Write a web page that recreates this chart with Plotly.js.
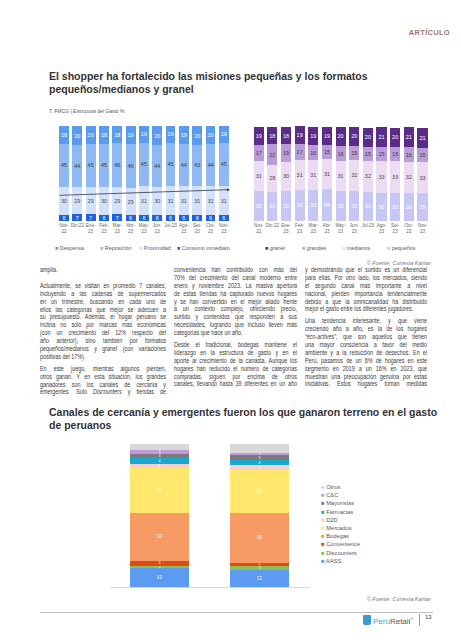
<!DOCTYPE html>
<html><head><meta charset="utf-8">
<script src="https://cdn.plot.ly/plotly-3.0.1.min.js"></script>
<style>
html,body{margin:0;padding:0;background:#fff;}
body{width:461px;height:640px;position:relative;overflow:hidden;font-family:'Liberation Sans',Arial,sans-serif;}
#chart{position:absolute;left:0;top:0;width:461px;height:640px;}
.t{position:absolute;left:49px;font-weight:bold;font-size:10.5px;line-height:13.3px;color:#333;white-space:nowrap;}
.sub{position:absolute;left:49px;top:108px;font-size:5px;color:#555;white-space:nowrap;}
.src{position:absolute;right:30px;font-size:5.5px;font-style:italic;color:#777;white-space:nowrap;}
.col{position:absolute;transform:scaleX(0.82);transform-origin:0 0;font-size:6.6px;color:#3a3a3a;}
.l{height:7.9px;line-height:7.9px;white-space:nowrap;text-align:justify;text-align-last:justify;}
.e{text-align-last:left;}
.gap{height:4px;}
</style></head>
<body>
<div id="chart"></div>

<div style="position:absolute;right:11px;top:28px;font-size:7.5px;font-weight:bold;color:#a57474;letter-spacing:0.3px;">ARTÍCULO</div>

<div class="t" style="top:70px;">El shopper ha fortalecido las misiones pequeñas y los formatos<br>pequeños/medianos y granel</div>
<div class="sub">T. FMCG | Estructura del Gasto %</div>
<div class="src" style="top:260px;">© Fuente: Cortesía Kantar</div>

<div class="col" style="left:40px;top:266px;width:153.7px;">
<div class="l e">amplia.</div>
<div style="height:8px"></div>
<div class="l">Actualmente, se visitan en promedio 7 canales,</div>
<div class="l">incluyendo a las cadenas de supermercados</div>
<div class="l">en un trimestre, buscando en cada uno de</div>
<div class="l">ellos las categorías que mejor se adecuen a</div>
<div class="l">su presupuesto. Además, el hogar peruano se</div>
<div class="l">inclina no solo por marcas más económicas</div>
<div class="l">(con un crecimiento del 12% respecto del</div>
<div class="l">año anterior), sino también por formatos</div>
<div class="l">pequeños/medianos y granel (con variaciones</div>
<div class="l e">positivas del 17%).</div>
<div class="gap"></div>
<div class="l">En este juego, mientras algunos pierden,</div>
<div class="l">otros ganan. Y en esta situación, los grandes</div>
<div class="l">ganadores son los canales de cercanía y</div>
<div class="l">emergentes. Solo <i>Discounters</i> y tiendas de</div>
</div>

<div class="col" style="left:174px;top:266px;width:150px;">
<div class="l">conveniencia han contribuido con más del</div>
<div class="l">70% del crecimiento del canal moderno entre</div>
<div class="l">enero y noviembre 2023. La masiva apertura</div>
<div class="l">de estas tiendas ha capturado nuevos hogares</div>
<div class="l">y se han convertido en el mejor aliado frente</div>
<div class="l">a un contexto complejo, ofreciendo precio,</div>
<div class="l">surtido y contenidos que responden a sus</div>
<div class="l">necesidades, logrando que incluso lleven más</div>
<div class="l e">categorías que hace un año.</div>
<div class="gap"></div>
<div class="l">Desde el tradicional, bodegas mantiene el</div>
<div class="l">liderazgo en la estructura de gasto y en el</div>
<div class="l">aporte al crecimiento de la canasta. Aunque los</div>
<div class="l">hogares han reducido el número de categorías</div>
<div class="l">compradas, siguen por encima de otros</div>
<div class="l">canales, llevando hasta 39 diferentes en un año</div>
</div>

<div class="col" style="left:305px;top:266px;width:148.8px;">
<div class="l">y demostrando que el surtido es un diferencial</div>
<div class="l">para ellas. Por otro lado, los mercados, siendo</div>
<div class="l">el segundo canal más importante a nivel</div>
<div class="l">nacional, pierden importancia tendencialmente</div>
<div class="l">debido a que la omnicanalidad ha distribuido</div>
<div class="l e">mejor el gasto entre los diferentes jugadores.</div>
<div class="gap"></div>
<div class="l">Una tendencia interesante, y que viene</div>
<div class="l">creciendo año a año, es la de los hogares</div>
<div class="l"><i>“eco-actives”</i>, que son aquellos que tienen</div>
<div class="l">una mayor consciencia a favor del medio</div>
<div class="l">ambiente y a la reducción de desechos. En el</div>
<div class="l">Perú, pasamos de un 6% de hogares en este</div>
<div class="l">segmento en 2019 a un 16% en 2023, que</div>
<div class="l">muestran una preocupación genuina por estas</div>
<div class="l">iniciativas. Estos hogares toman medidas</div>
</div>

<div class="t" style="top:406px;">Canales de cercanía y emergentes fueron los que ganaron terreno en el gasto<br>de peruanos</div>
<div class="src" style="top:596px;">© Fuente: Cortesía Kantar</div>

<div style="position:absolute;left:40px;top:612px;width:393px;height:1px;background:#bdbdbd;"></div>
<div style="position:absolute;left:363px;top:615px;width:8px;height:10px;background:#3a9ad8;border-radius:1px 1px 2px 2px;"></div>
<div style="position:absolute;left:373px;top:616px;font-size:8px;white-space:nowrap;"><span style="color:#3da5e0">Perú</span><span style="color:#555">Retail</span><sup style="font-size:4px;color:#555">®</sup></div>
<div style="position:absolute;left:419px;top:614px;width:1px;height:12px;background:#999;"></div>
<div style="position:absolute;left:425px;top:614px;font-size:6px;color:#444;">13</div>

<script>
// ---- Chart 1: Misiones (Estructura del gasto %) ----
const months = ["Nov-22","Dic-22","Ene-23","Feb-23","Mar-23","Abr-23","May-23","Jun-23","Jul-23","Ago-23","Set-23","Oct-23","Nov-23"];
const monthTicks = ["Nov-<br>22","Dic-22","Ene-<br>23","Feb-<br>23","Mar-<br>23","Abr-<br>23","May-<br>23","Jun-<br>23","Jul-23","Ago-<br>23","Set-<br>23","Oct-<br>23","Nov-<br>23"];
const despensa         = [19,20,20,19,18,19,19,20,19,19,20,20,19];
const reposicion       = [45,44,45,45,46,46,45,44,45,44,43,44,45];
const proximidad       = [30,29,29,30,29,29,31,30,31,31,31,31,31];
const consumoInmediato = [6,7,7,6,7,6,6,6,6,6,6,6,6];

// ---- Chart 2: Formatos ----
const granel   = [19,18,18,19,19,19,20,20,20,21,20,21,21];
const grandes  = [17,22,19,17,16,15,16,15,15,15,15,16,15];
const medianos = [31,28,30,31,31,31,31,32,32,33,33,32,33];
const pequenos = [32,31,32,33,33,34,32,32,31,30,30,30,29];

// ---- Chart 3: Canales ----
const periodos    = ["2022","2023"];
const aass        = [13,12];
const discounters = [2,3];
const convenience = [3,2];
const bodegas     = [34,35];
const mercados    = [31,30];
const d2d         = [3,3];
const farmacias   = [4,4];
const mayoristas  = [3,3];
const cyc         = [3,2];
const otros       = [4,6];

const W = 461, H = 640;
const px = v => v / W, py = v => 1 - v / H;

function bar(x, y, name, color, txtColor, xa, ya, width, fs) {
  return {type:'bar', x:x, y:y, name:name, xaxis:xa, yaxis:ya, width:width,
    marker:{color:color},
    text:y.map(String), textposition:'inside', insidetextanchor:'middle',
    textangle:0, constraintext:'none',
    textfont:{size:fs, color:txtColor, family:'Liberation Sans, Arial, sans-serif'},
    hoverinfo:'skip'};
}

const t1 = [
  bar(months, consumoInmediato, 'Consumo inmediato', '#1f62d9', '#ffffff', 'x', 'y', 0.74, 5.5),
  bar(months, proximidad, 'Proximidad', '#d3e2fa', '#4a4a4a', 'x', 'y', 0.74, 5.5),
  bar(months, reposicion, 'Reposición', '#8fb9f4', '#3a3a3a', 'x', 'y', 0.74, 5.5),
  bar(months, despensa, 'Despensa', '#5a9bef', '#ffffff', 'x', 'y', 0.74, 5.5)
];
const t2 = [
  bar(months, pequenos, 'pequeños', '#c6c7f4', '#ffffff', 'x2', 'y2', 0.74, 5.5),
  bar(months, medianos, 'medianos', '#ecdcf3', '#4a4a4a', 'x2', 'y2', 0.74, 5.5),
  bar(months, grandes, 'grandes', '#b99bd8', '#3a3a3a', 'x2', 'y2', 0.74, 5.5),
  bar(months, granel, 'granel', '#5c2a88', '#ffffff', 'x2', 'y2', 0.74, 5.5)
];
const t3 = [
  bar(periodos, aass, 'AASS', '#5b9cf2', '#ffffff', 'x3', 'y3', 0.59, 4.5),
  bar(periodos, discounters, 'Discounters', '#8cc152', '#ffffff', 'x3', 'y3', 0.59, 3.6),
  bar(periodos, convenience, 'Convenience', '#e04a16', '#ffffff', 'x3', 'y3', 0.59, 3.6),
  bar(periodos, bodegas, 'Bodegas', '#f79a64', '#ffffff', 'x3', 'y3', 0.59, 4.5),
  bar(periodos, mercados, 'Mercados', '#ffe86b', '#ffffff', 'x3', 'y3', 0.59, 4.5),
  bar(periodos, d2d, 'D2D', '#f6cfcc', '#ffffff', 'x3', 'y3', 0.59, 3.6),
  bar(periodos, farmacias, 'Farmacias', '#18a9cc', '#ffffff', 'x3', 'y3', 0.59, 3.6),
  bar(periodos, mayoristas, 'Mayoristas', '#7b7b7b', '#ffffff', 'x3', 'y3', 0.59, 3.6),
  bar(periodos, cyc, 'C&C', '#c39ad9', '#ffffff', 'x3', 'y3', 0.59, 3.6),
  bar(periodos, otros, 'Otros', '#d9d9d9', '#ffffff', 'x3', 'y3', 0.59, 3.6)
];
t3[t3.length - 1].textposition = 'none';

const ann = [];
function legItem(tr, xPix, yPix, fs) {
  ann.push({xref:'paper', yref:'paper', x:px(xPix), y:py(yPix), xanchor:'left', yanchor:'middle',
    showarrow:false, text:'<span style="color:' + tr.marker.color + '">■</span> ' + tr.name,
    font:{size:fs, color:'#5a5a5a'}});
}
// top-left legend
[[t1[3],53],[t1[2],98],[t1[1],137],[t1[0],175]].forEach(d => legItem(d[0], d[1], 248, 5.4));
// top-right legend
[[t2[3],263],[t2[2],300],[t2[1],340],[t2[0],385]].forEach(d => legItem(d[0], d[1], 248, 5.4));
// bottom legend (top to bottom: Otros ... AASS)
t3.slice().reverse().forEach((tr, i) => legItem(tr, 319, 487 + i * 8.2, 5.8));

// trend arrow across "Proximidad"
ann.push({xref:'x', yref:'y', axref:'x', ayref:'y', x:12.45, y:33, ax:-0.45, ay:27,
  showarrow:true, arrowhead:2, arrowsize:0.7, arrowwidth:0.8, arrowcolor:'#2a3550', text:''});

const catAxis = {type:'category', tickvals:months, ticktext:monthTicks, showgrid:false,
  zeroline:false, showline:false, ticks:'', tickangle:0, automargin:false,
  tickfont:{size:4.6, color:'#666'}, fixedrange:true};

const layout = {
  width:W, height:H, margin:{l:0,r:0,t:0,b:0},
  paper_bgcolor:'rgba(0,0,0,0)', plot_bgcolor:'rgba(0,0,0,0)',
  barmode:'stack', showlegend:false,
  font:{family:'Liberation Sans, Arial, sans-serif', color:'#555'},
  xaxis: Object.assign({}, catAxis, {domain:[px(56), px(231.5)], anchor:'y'}),
  yaxis: {domain:[py(221), py(126)], range:[0,100], visible:false, anchor:'x'},
  xaxis2: Object.assign({}, catAxis, {domain:[px(251.9), px(429.3)], anchor:'y2'}),
  yaxis2: {domain:[py(221), py(126)], range:[0,100], visible:false, anchor:'x2'},
  xaxis3: {type:'category', domain:[px(109.5), px(309.5)], anchor:'y3', showticklabels:false,
    showgrid:false, zeroline:false, showline:true, linecolor:'#d9d9d9', linewidth:1, ticks:''},
  yaxis3: {domain:[py(587), py(444)], range:[0,100], visible:false, anchor:'x3'},
  annotations: ann
};

Plotly.newPlot('chart', t1.concat(t2, t3), layout, {displayModeBar:false, staticPlot:true});
</script>
</body></html>
